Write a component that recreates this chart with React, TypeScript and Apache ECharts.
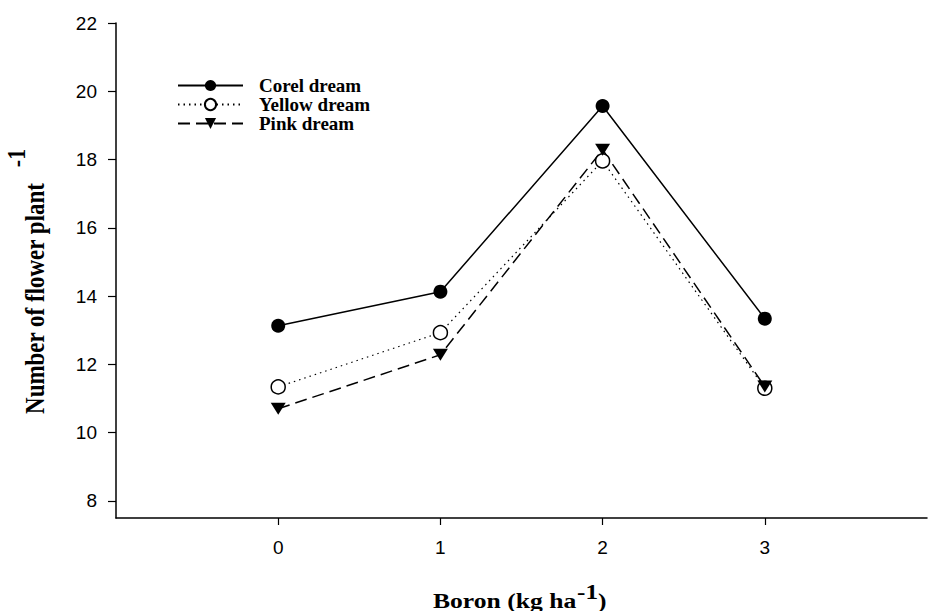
import React, { useEffect, useRef } from "react";
import * as echarts from "echarts";

const xValues = [0, 1, 2, 3];
const xTicks = [0, 1, 2, 3];
const yTicks = [8, 10, 12, 14, 16, 18, 20, 22];
const seriesNames = ["Corel dream", "Yellow dream", "Pink dream"];
const corel = [13.13, 14.13, 19.57, 13.34];
const yellow = [11.34, 12.93, 17.96, 11.3];
const pink = [10.7, 12.28, 18.29, 11.35];

const serif = "'Liberation Serif', 'Times New Roman', serif";
const sans = "'Liberation Sans', Arial, sans-serif";

export default function App() {
  const ref = useRef<HTMLDivElement>(null);
  useEffect(() => {
    document.body.style.margin = "0";
    const chart = echarts.init(ref.current!, null, { renderer: "svg" });
    const toPts = (vals: number[]) => xValues.map((x, i) => [x, vals[i]]);
    chart.setOption({
      animation: false,
      backgroundColor: "#fff",
      grid: { left: 116, top: 23, width: 825, bottom: 93, containLabel: false },
      xAxis: {
        type: "value",
        min: -1,
        max: 4,
        interval: 1,
        axisLine: { show: true, onZero: false, lineStyle: { color: "#000", width: 1.5 } },
        axisTick: { show: true, customValues: xTicks, length: 7, lineStyle: { color: "#000", width: 1.2 } },
        axisLabel: {
          margin: 20,
          color: "#000",
          fontFamily: sans,
          fontSize: 19,
          formatter: (v: number) => (xTicks.includes(v) ? String(v) : ""),
        },
        splitLine: { show: false },
      },
      yAxis: {
        type: "value",
        min: 7.5,
        max: 22,
        interval: 0.5,
        axisLine: { show: true, onZero: false, lineStyle: { color: "#000", width: 1.5 } },
        axisTick: { show: true, customValues: yTicks, length: 8, lineStyle: { color: "#000", width: 1.2 } },
        axisLabel: {
          margin: 19,
          color: "#000",
          fontFamily: sans,
          fontSize: 19,
          formatter: (v: number) => (yTicks.includes(v) ? String(v) : ""),
        },
        splitLine: { show: false },
      },
      legend: {
        data: seriesNames,
        orient: "vertical",
        left: 172,
        top: 71,
        itemWidth: 65,
        itemHeight: 14,
        itemGap: 0,
        textStyle: {
          fontFamily: serif,
          fontWeight: "bold",
          fontSize: 19,
          lineHeight: 18.5,
          color: "#000",
          padding: [0, 0, 0, 11],
        },
      },
      graphic: [
        {
          type: "text",
          x: 34.8,
          y: 298.5,
          rotation: Math.PI / 2,
          scaleY: 1.18,
          style: {
            text: "Number of flower plant",
            fontFamily: serif,
            fontWeight: "bold",
            fontSize: 23,
            align: "center",
            verticalAlign: "middle",
            fill: "#000",
          },
        },
        {
          type: "text",
          x: 17,
          y: 158,
          rotation: Math.PI / 2,
          scaleY: 1.1,
          style: {
            text: "-1",
            fontFamily: serif,
            fontWeight: "bold",
            fontSize: 22,
            align: "center",
            verticalAlign: "middle",
            fill: "#000",
          },
        },
        {
          type: "text",
          x: 433,
          y: 601,
          scaleX: 1.28,
          style: {
            text: "Boron (kg ha",
            fontFamily: serif,
            fontWeight: "bold",
            fontSize: 20,
            align: "left",
            verticalAlign: "middle",
            fill: "#000",
          },
        },
        {
          type: "text",
          x: 577,
          y: 592,
          scaleX: 1.26,
          style: {
            text: "-1",
            fontFamily: serif,
            fontWeight: "bold",
            fontSize: 20,
            align: "left",
            verticalAlign: "middle",
            fill: "#000",
          },
        },
        {
          type: "text",
          x: 598,
          y: 601,
          scaleX: 1.28,
          style: {
            text: ")",
            fontFamily: serif,
            fontWeight: "bold",
            fontSize: 20,
            align: "left",
            verticalAlign: "middle",
            fill: "#000",
          },
        },
      ],
      series: [
        {
          name: seriesNames[0],
          type: "line",
          data: toPts(corel),
          symbol: "circle",
          symbolSize: 14,
          itemStyle: { color: "#000" },
          lineStyle: { color: "#000", width: 1.5, type: "solid" },
        },
        {
          name: seriesNames[1],
          type: "line",
          data: toPts(yellow),
          symbol: "circle",
          symbolSize: 14,
          itemStyle: { color: "#fff", borderColor: "#000", borderWidth: 1.5 },
          lineStyle: { color: "#000", width: 1.2, type: [1.5, 4] },
        },
        {
          name: seriesNames[2],
          type: "line",
          data: toPts(pink),
          symbol: "triangle",
          symbolRotate: 180,
          symbolSize: [15, 12],
          itemStyle: { color: "#000" },
          lineStyle: { color: "#000", width: 1.5, type: [12, 6] },
        },
      ],
    });
    return () => chart.dispose();
  }, []);
  return <div ref={ref} style={{ width: 930, height: 611 }} />;
}
